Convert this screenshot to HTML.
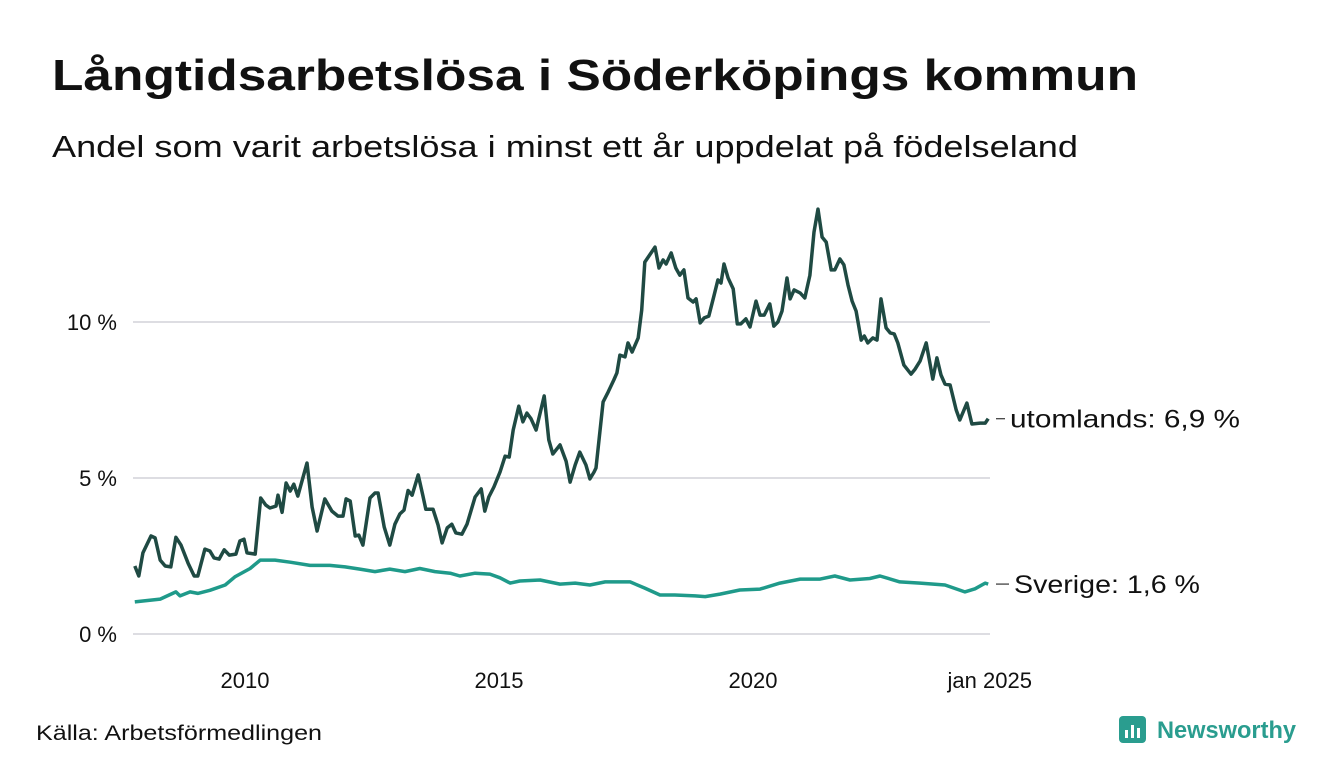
<!DOCTYPE html>
<html><head><meta charset="utf-8"><style>
body{margin:0;background:#fff;font-family:"Liberation Sans","DejaVu Sans",sans-serif;}
#wrap{position:relative;width:1340px;height:780px;overflow:hidden;background:#fff}
</style></head><body>
<div id="wrap">
<svg id="chart" width="1340" height="780">
<text x="52" y="90" font-size="44" font-weight="bold" fill="#111" textLength="1086" lengthAdjust="spacingAndGlyphs">Långtidsarbetslösa i Söderköpings kommun</text>
<text x="52" y="157" font-size="31" fill="#111" textLength="1026" lengthAdjust="spacingAndGlyphs">Andel som varit arbetslösa i minst ett år uppdelat på födelseland</text>
<g id="grid"></g><g id="lines"></g><g id="labels"></g>
<text x="36" y="740" font-size="21" fill="#111" textLength="286" lengthAdjust="spacingAndGlyphs">Källa: Arbetsförmedlingen</text>
<g>
<rect x="1119" y="716" width="27" height="27" rx="4" fill="#2a9d8f"/>
<rect x="1125" y="730" width="3" height="8" fill="#fff"/><rect x="1131" y="725" width="3" height="13" fill="#fff"/><rect x="1137" y="728" width="3" height="10" fill="#fff"/>
<text x="1157" y="738" font-size="24" font-weight="bold" fill="#2a9d8f" textLength="139" lengthAdjust="spacingAndGlyphs">Newsworthy</text>
</g>
</svg>
</div>
<script>
const abroadDates=[7.83,7.91,7.99,8.15,8.23,8.33,8.43,8.54,8.64,8.74,8.88,9.00,9.07,9.21,9.31,9.39,9.49,9.59,9.69,9.82,9.90,9.98,10.04,10.20,10.31,10.41,10.49,10.61,10.65,10.73,10.81,10.89,10.96,11.04,11.22,11.32,11.42,11.57,11.71,11.83,11.93,11.99,12.07,12.17,12.24,12.32,12.46,12.56,12.62,12.74,12.85,12.95,13.05,13.13,13.21,13.29,13.41,13.50,13.56,13.70,13.80,13.88,13.98,14.07,14.15,14.27,14.37,14.53,14.65,14.72,14.80,14.90,15.02,15.12,15.20,15.28,15.39,15.47,15.55,15.63,15.73,15.89,15.98,16.06,16.20,16.32,16.40,16.50,16.59,16.71,16.79,16.87,16.91,17.05,17.15,17.26,17.32,17.38,17.48,17.54,17.62,17.74,17.81,17.87,18.07,18.15,18.23,18.29,18.39,18.48,18.56,18.64,18.72,18.82,18.88,18.96,19.04,19.13,19.23,19.31,19.37,19.43,19.51,19.61,19.69,19.76,19.86,19.94,20.06,20.14,20.22,20.33,20.41,20.49,20.57,20.67,20.73,20.81,20.93,21.02,21.12,21.20,21.28,21.36,21.44,21.54,21.61,21.71,21.79,21.87,21.95,22.03,22.13,22.19,22.26,22.36,22.44,22.52,22.62,22.70,22.78,22.85,22.97,23.11,23.19,23.29,23.41,23.54,23.62,23.70,23.78,23.88,24.00,24.07,24.21,24.31,24.47,24.57,24.63];
const abroadValues=[2.18,1.86,2.6,3.14,3.08,2.37,2.18,2.15,3.1,2.85,2.27,1.86,1.86,2.72,2.66,2.44,2.4,2.7,2.53,2.56,2.98,3.04,2.6,2.56,4.36,4.13,4.04,4.1,4.45,3.9,4.84,4.58,4.8,4.42,5.48,4.07,3.3,4.33,3.94,3.78,3.78,4.33,4.26,3.14,3.17,2.85,4.36,4.52,4.52,3.43,2.85,3.52,3.85,3.97,4.6,4.45,5.1,4.45,4.0,4.0,3.5,2.92,3.4,3.52,3.24,3.2,3.52,4.39,4.65,3.94,4.39,4.71,5.19,5.7,5.67,6.54,7.3,6.8,7.08,6.9,6.54,7.63,6.22,5.77,6.06,5.54,4.87,5.42,5.83,5.42,4.97,5.19,5.32,7.44,7.76,8.14,8.37,8.94,8.88,9.33,9.04,9.49,10.38,11.92,12.4,11.73,11.99,11.86,12.21,11.73,11.5,11.67,10.77,10.64,10.74,9.97,10.13,10.19,10.83,11.35,11.25,11.86,11.41,11.06,9.94,9.94,10.1,9.84,10.67,10.22,10.22,10.58,9.87,10.0,10.35,11.41,10.74,11.03,10.93,10.77,11.5,12.88,13.62,12.72,12.56,11.67,11.67,12.02,11.83,11.19,10.67,10.35,9.42,9.55,9.33,9.49,9.42,10.74,9.81,9.65,9.62,9.33,8.62,8.33,8.49,8.75,9.33,8.17,8.85,8.3,8.01,7.98,7.18,6.86,7.4,6.73,6.76,6.76,6.9];
const swedenDates=[7.83,8.33,8.64,8.72,8.92,9.07,9.31,9.61,9.80,10.10,10.30,10.59,10.89,11.28,11.67,11.97,12.26,12.56,12.85,13.15,13.44,13.74,14.04,14.23,14.53,14.82,15.02,15.22,15.41,15.81,16.20,16.50,16.79,17.09,17.58,17.87,18.17,18.46,18.86,19.06,19.35,19.74,20.14,20.53,20.93,21.32,21.61,21.91,22.30,22.50,22.89,23.29,23.78,24.17,24.37,24.57,24.63];
const swedenValues=[1.03,1.12,1.35,1.22,1.35,1.3,1.4,1.57,1.83,2.1,2.37,2.37,2.3,2.2,2.2,2.15,2.08,2.0,2.08,2.0,2.1,2.0,1.95,1.86,1.95,1.92,1.8,1.63,1.7,1.73,1.6,1.63,1.57,1.67,1.67,1.47,1.25,1.25,1.22,1.2,1.28,1.41,1.44,1.63,1.76,1.76,1.86,1.73,1.78,1.86,1.67,1.63,1.57,1.35,1.45,1.63,1.6];
const yTicks=[0,5,10];
const yTickLabels=['0 %','5 %','10 %'];
const xTicks=[10,15,20,24.66];
const xTickLabels=['2010','2015','2020','jan 2025'];
const seriesLabels=['utomlands: 6,9 %','Sverige: 1,6 %'];

const NS='http://www.w3.org/2000/svg';
const xs=t=>245+(t-10)*50.8;
const ys=v=>634-v*31.2;
function mk(tag,attrs,parent){const e=document.createElementNS(NS,tag);for(const k in attrs)e.setAttribute(k,attrs[k]);parent.appendChild(e);return e;}
const grid=document.getElementById('grid'),lines=document.getElementById('lines'),labels=document.getElementById('labels');
yTicks.forEach((v,i)=>{
 const l=mk('line',{x1:133,x2:990,y1:ys(v),y2:ys(v),stroke:'#dddde2','stroke-width':2},grid);
 
 
 const t=mk('text',{x:117,y:ys(v)+8,'text-anchor':'end','font-size':22,fill:'#111'},grid);
 t.textContent=yTickLabels[i];
 
 
});
xTicks.forEach((v,i)=>{
 const t=mk('text',{x:xs(v),y:688,'text-anchor':'middle','font-size':22,fill:'#111'},grid);
 t.textContent=xTickLabels[i];
 
 
});
function line(d,v,color,name){
 const p=mk('path',{d:d.map((t,i)=>(i?'L':'M')+xs(t).toFixed(1)+','+ys(v[i]).toFixed(1)).join(''),fill:'none',stroke:color,'stroke-width':3.5,'stroke-linejoin':'round'},lines);
 
 
}
line(swedenDates,swedenValues,'#1f9a8a','line-sverige');
line(abroadDates,abroadValues,'#1f4a43','line-utomlands');
const labelW=[230,186];
[[abroadDates,abroadValues],[swedenDates,swedenValues]].forEach((s,i)=>{
 const y=ys(s[1][s[1].length-1]);
 const l=mk('line',{x1:996,x2:1005+i*4,y1:y,y2:y,stroke:'#333','stroke-width':1.2},labels);
 
 
 const t=mk('text',{x:1010+i*4,y:y+9,'font-size':25,fill:'#111',textLength:labelW[i],lengthAdjust:'spacingAndGlyphs'},labels);
 t.textContent=seriesLabels[i];
 
 
});
</script>
</body></html>
